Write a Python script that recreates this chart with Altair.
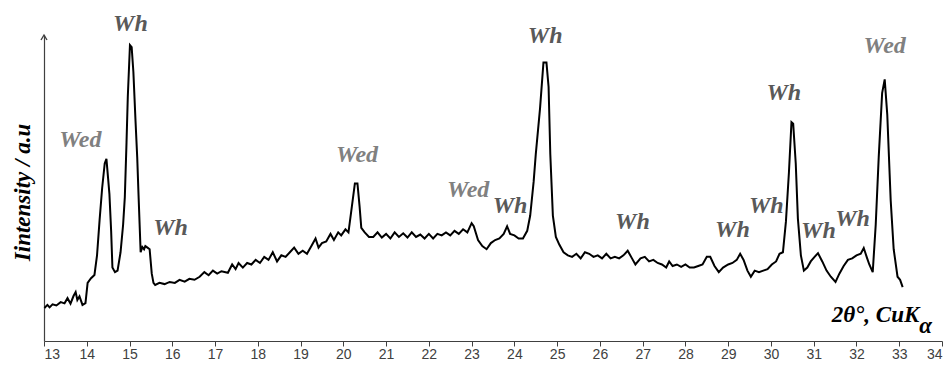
import altair as alt
import pandas as pd

theta = [
    13.01, 13.08, 13.13, 13.20, 13.29, 13.39, 13.48, 13.55, 13.62, 13.69, 13.74, 13.78, 13.83, 13.90, 13.97,
    14.02, 14.10, 14.18, 14.24, 14.30, 14.36, 14.42, 14.46, 14.50, 14.53, 14.57, 14.60, 14.66, 14.72, 14.79,
    14.85, 14.89, 14.93, 14.96, 15.01, 15.05, 15.09, 15.14, 15.18, 15.21, 15.26, 15.30, 15.34, 15.37, 15.42,
    15.47, 15.52, 15.56, 15.60, 15.70, 15.82, 15.94, 16.06, 16.17, 16.29, 16.40, 16.52, 16.64, 16.75, 16.85,
    16.95, 17.05, 17.15, 17.30, 17.40, 17.48, 17.55, 17.65, 17.75, 17.85, 17.95, 18.05, 18.15, 18.25, 18.35,
    18.45, 18.55, 18.65, 18.75, 18.85, 18.95, 19.05, 19.15, 19.25, 19.35, 19.42, 19.50, 19.60, 19.70, 19.78,
    19.88, 19.95, 20.05, 20.12, 20.20, 20.27, 20.33, 20.38, 20.42, 20.50, 20.60, 20.70, 20.80, 20.90, 21.00,
    21.10, 21.20, 21.30, 21.40, 21.50, 21.60, 21.70, 21.80, 21.90, 22.00, 22.10, 22.20, 22.30, 22.40, 22.50,
    22.60, 22.70, 22.80, 22.90, 23.00, 23.05, 23.15, 23.25, 23.35, 23.45, 23.55, 23.65, 23.75, 23.83, 23.90,
    24.00, 24.10, 24.20, 24.30, 24.37, 24.45, 24.50, 24.60, 24.68, 24.75, 24.80, 24.84, 24.90, 24.97, 25.05,
    25.15, 25.25, 25.35, 25.45, 25.55, 25.65, 25.75, 25.85, 25.95, 26.05, 26.15, 26.25, 26.35, 26.45, 26.55,
    26.65, 26.75, 26.83, 26.95, 27.05, 27.15, 27.25, 27.35, 27.45, 27.55, 27.62, 27.70, 27.80, 27.90, 28.00,
    28.10, 28.20, 28.30, 28.40, 28.50, 28.58, 28.68, 28.78, 28.88, 29.00, 29.10, 29.20, 29.28, 29.36, 29.45,
    29.53, 29.62, 29.72, 29.82, 29.92, 30.02, 30.12, 30.20, 30.28, 30.35, 30.42, 30.48, 30.52, 30.58, 30.63,
    30.70, 30.77, 30.85, 30.93, 31.02, 31.10, 31.20, 31.30, 31.40, 31.51, 31.60, 31.70, 31.80, 31.90, 32.00,
    32.10, 32.17, 32.25, 32.30, 32.38, 32.45, 32.52, 32.60, 32.66, 32.72, 32.80, 32.87, 32.96, 33.02, 33.08,
]
intensity = [
    10.8, 11.8, 11.0, 12.0, 11.6, 12.7, 12.3, 14.0, 12.2, 14.7, 16.0, 13.4, 14.6, 11.8, 12.4,
    19.0, 20.5, 21.6, 28.0, 39.5, 50.0, 58.0, 59.5, 53.0, 48.0, 36.0, 24.0, 22.5, 23.0, 29.0,
    38.0, 47.0, 65.0, 80.0, 96.7, 96.0, 88.0, 72.0, 60.0, 48.0, 29.0, 30.7, 30.0, 31.0, 30.5,
    30.0, 22.0, 19.0, 18.3, 19.0, 18.6, 19.3, 19.0, 20.0, 19.4, 20.3, 20.0, 21.0, 22.5, 21.5,
    23.0, 22.0, 22.8, 22.3, 25.0, 23.5, 25.5, 24.0, 25.5, 25.0, 26.5, 25.5, 27.5, 26.5, 29.0,
    26.0, 28.0, 27.5, 29.0, 30.5, 28.5, 29.5, 28.5, 31.0, 33.5, 30.5, 32.0, 32.5, 35.0, 33.0,
    35.5, 34.5, 36.5, 35.5, 44.0, 51.5, 51.5, 44.0, 37.0, 35.5, 34.0, 34.0, 35.5, 33.8, 35.0,
    33.5, 35.5, 34.0, 35.2, 33.8, 35.5, 34.0, 34.8, 33.5, 35.0, 33.5, 35.0, 34.5, 35.5, 34.5,
    36.0, 35.0, 36.5, 35.5, 38.5, 37.5, 33.0, 31.0, 30.0, 32.0, 33.0, 33.5, 35.0, 37.5, 35.0,
    34.5, 33.5, 33.5, 36.0, 41.0, 52.0, 61.0, 76.0, 91.0, 91.0, 83.0, 61.0, 41.0, 34.0, 31.5,
    29.0, 28.0, 27.5, 28.5, 27.0, 29.0, 28.5, 27.5, 28.0, 27.0, 28.5, 27.0, 27.5, 27.0, 28.0,
    29.5, 27.0, 25.0, 27.0, 27.5, 26.0, 26.5, 25.5, 25.0, 24.0, 26.0, 24.5, 25.0, 24.2, 25.0,
    24.0, 24.0, 24.5, 25.0, 27.5, 27.5, 24.5, 22.5, 24.0, 25.0, 25.5, 26.5, 28.5, 26.5, 23.0,
    21.0, 23.0, 22.5, 23.0, 23.5, 25.0, 26.0, 28.5, 29.0, 39.0, 55.0, 71.5, 71.0, 58.0, 40.0,
    28.0, 23.0, 24.0, 26.0, 27.5, 28.7, 26.0, 23.0, 21.0, 19.3, 22.0, 24.5, 26.5, 27.0, 28.0,
    28.5, 30.4, 27.0, 25.0, 22.5, 38.0, 60.0, 81.0, 85.5, 74.0, 46.0, 30.0, 21.0, 20.0, 17.6,
]

# Phase labels
label_text = ["Wed", "Wh", "Wh", "Wed", "Wed", "Wh", "Wh", "Wh", "Wh", "Wh", "Wh", "Wh", "Wh", "Wed"]
label_x = [13.85, 15.02, 15.96, 20.32, 22.92, 23.90, 24.72, 26.76, 29.10, 29.89, 30.30, 31.11, 31.91, 32.66]
label_y = [65.7, 103.6, 36.9, 60.8, 49.3, 44.1, 99.6, 38.9, 36.3, 44.1, 81.0, 36.0, 39.9, 96.4]

x_ticks = list(range(13, 35))

df = pd.DataFrame({"theta": theta, "intensity": intensity})
labels = pd.DataFrame({"text": label_text, "x": label_x, "y": label_y})

xscale = alt.Scale(domain=[13, 34], nice=False, zero=False)
yscale = alt.Scale(domain=[0, 100], nice=False, zero=False)

x_axis = alt.Axis(
    values=x_ticks, format="d", title=None, grid=False,
    domainColor="#404040", domainWidth=1.2, tickColor="#404040", tickSize=5,
    labelFont="Liberation Sans", labelFontSize=14, labelColor="#404040", labelPadding=1,
)
y_axis = alt.Axis(
    title="Iintensity / a.u", labels=False, ticks=False, grid=False,
    domainColor="#404040", domainWidth=1.2,
    titleFont="Liberation Serif", titleFontStyle="italic", titleFontWeight="bold",
    titleFontSize=23, titleColor="black", titleAngle=270, titleBaseline="alphabetic",
    titleX=-15, titleY=157, titleAlign="center",
)

line = alt.Chart(df).mark_line(color="black", strokeWidth=2, strokeJoin="miter").encode(
    x=alt.X("theta:Q", scale=xscale, axis=x_axis),
    y=alt.Y("intensity:Q", scale=yscale, axis=y_axis),
)

lab = alt.Chart(labels).mark_text(
    font="Liberation Serif", fontStyle="italic", fontWeight="bold", fontSize=24,
    baseline="middle", align="center",
).encode(
    x=alt.X("x:Q", scale=xscale),
    y=alt.Y("y:Q", scale=yscale),
    text="text:N",
    color=alt.Color("text:N", scale=alt.Scale(domain=["Wed", "Wh"], range=["#808080", "#595959"]), legend=None),
)

arrow = alt.Chart(pd.DataFrame({"x": [13], "y": [100]})).mark_point(
    shape="M-0.6,1L0,0L0.6,1", filled=False, stroke="#404040", strokeWidth=1.4, size=100, opacity=1,
).encode(x=alt.X("x:Q", scale=xscale), y=alt.Y("y:Q", scale=yscale))

xtitle = alt.Chart(pd.DataFrame({"x": [31.42], "y": [6.2], "t": ["2θ°, CuK"]})).mark_text(
    font="Liberation Serif", fontStyle="italic", fontWeight="bold", fontSize=23,
    align="left", baseline="alphabetic", color="black",
).encode(x=alt.X("x:Q", scale=xscale), y=alt.Y("y:Q", scale=yscale), text="t:N")

alpha = alt.Chart(pd.DataFrame({"x": [33.47], "y": [2.6], "t": ["α"]})).mark_text(
    font="Liberation Serif", fontStyle="italic", fontWeight="bold", fontSize=23,
    align="left", baseline="alphabetic", color="black",
).encode(x=alt.X("x:Q", scale=xscale), y=alt.Y("y:Q", scale=yscale), text="t:N")

chart = alt.layer(line, lab, arrow, xtitle, alpha).properties(
    width=898, height=306,
    autosize=alt.AutoSizeParams(type="none"),
    padding={"left": 36, "top": 27, "right": 2, "bottom": 25},
    background="white",
).configure_view(stroke=None)

chart.save("out.html", embed_options={"renderer": "svg", "actions": False})
